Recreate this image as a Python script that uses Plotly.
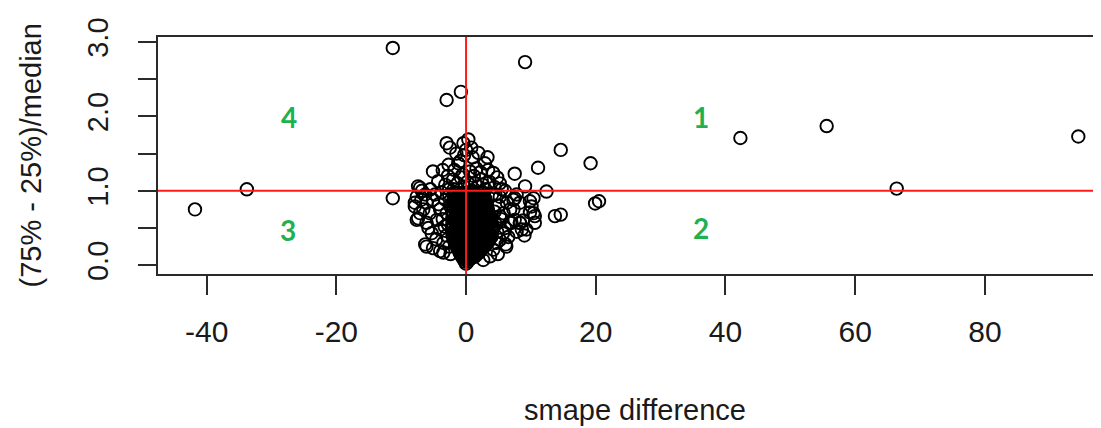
import plotly.graph_objects as go

# ---- data ----
# isolated / outlying points
out_x = [-41.8, -33.8, -11.3, -11.3, 9.1, -3.0, -0.8, 42.3, 55.6, 66.4, 94.4,
         14.6, 19.2, 11.1, 19.9, 20.5, 13.7, 14.6, 12.4]
out_y = [0.75, 1.02, 0.90, 2.92, 2.73, 2.22, 2.33, 1.71, 1.87, 1.03, 1.73,
         1.55, 1.37, 1.31, 0.83, 0.86, 0.66, 0.68, 0.99]

# points surrounding the dense core, right side
right_x = [10.6, 10.6, 9.85, 9.1, 7.8, 8.6, 7.5, 6.8, 7.8, 7.5, 7.5, 9.85, 10.4,
           10.1, 7.3, 8.3, 7.0, 10.4, 7.3, 5.2, 4.2, 5.2, 6.3, 8.3, 5.2, 6.8,
           8.3, 5.7, 4.7, 3.7, 2.65, 9.3, 6.0, 5.0, 4.6, 5.8, 6.5, 4.5, 5.5,
           8.8, 9.0, 6.2, 4.9, 4.4, 4.8, 5.4, 6.1]
right_y = [0.57, 0.66, 0.71, 1.06, 0.95, 0.48, 0.61, 0.75, 0.45, 1.23, 0.90, 0.86, 0.70,
           0.79, 0.75, 0.84, 0.57, 0.90, 0.88, 0.34, 0.21, 0.92, 0.84, 0.57, 0.66, 0.57,
           0.57, 0.43, 0.30, 0.12, 0.07, 0.48, 0.50, 0.80, 0.55, 0.70, 0.38, 0.95, 1.02,
           0.60, 0.40, 0.25, 0.15, 0.72, 0.45, 0.62, 0.28]

# points surrounding the dense core, left side
left_x = [-7.4, -7.6, -7.9, -7.4, -6.1, -4.0, -7.9, -7.1, -6.1, -5.1, -7.6, -6.1,
          -4.5, -5.3, -4.0, -6.3, -5.1, -3.5, -3.5, -4.0, -3.0, -6.8, -5.6, -4.8,
          -3.2, -2.8, -3.0, -2.6, -5.8, -4.6, -6.6, -3.6, -2.5, -2.6, -6.9, -2.4,
          -3.3, -4.2]
left_y = [1.06, 0.92, 0.79, 0.63, 0.25, 0.19, 0.84, 0.70, 0.84, 0.88, 0.61, 0.57,
          0.61, 0.43, 0.48, 0.28, 0.23, 0.30, 0.17, 0.75, 0.70, 1.00, 0.70, 0.95,
          0.88, 0.55, 0.40, 0.25, 0.50, 0.35, 0.75, 0.62, 0.80, 0.95, 0.88, 0.15,
          0.52, 0.82]

# points above the core (y > 1)
upper_x = [-3.0, -0.4, 0.35, -2.5, 1.9, -2.7, -5.1, -1.2, 2.9, 0.6, 4.2, -4.3,
           -2.0, 2.4, 5.2, -7.1, -0.9, 0.0, -0.3, 1.0, -1.8, 1.6, 3.4, -0.5, 1.2,
           3.6, -3.2, -1.3, 0.2, 1.8, 4.4, -2.6, 3.0, -0.2, 0.9, -3.8, 4.0, 6.0,
           -5.5, -6.3, -2.8, 3.3, -1.5, 0.8, 2.2, -0.8, -3.6, 4.8, 1.4, -1.9, 2.6]
upper_y = [1.64, 1.64, 1.69, 1.58, 1.51, 1.35, 1.26, 1.37, 1.37, 1.26, 1.24, 1.13,
           1.15, 1.15, 1.10, 1.04, 1.40, 1.55, 1.48, 1.45, 1.28, 1.30, 1.28, 1.22, 1.20,
           1.12, 1.08, 1.10, 1.12, 1.06, 1.05, 1.02, 1.02, 1.05, 1.00, 0.98, 0.95, 1.00,
           1.02, 0.95, 1.20, 1.45, 1.50, 1.58, 1.25, 1.18, 1.28, 1.18, 1.10, 1.02, 1.08]

# dense core: y level of each row and the x values read along it
core_levels = [0.02, 0.05, 0.08, 0.11, 0.14, 0.17, 0.20, 0.23, 0.26, 0.29, 0.32,
               0.35, 0.38, 0.41, 0.45, 0.49, 0.53, 0.57, 0.61, 0.65, 0.69, 0.73,
               0.77, 0.81, 0.85, 0.89, 0.93, 0.97]
core_rows = [
    [0.0],
    [-0.2, 0.3],
    [-0.4, 0.1, 0.6],
    [-0.6, -0.1, 0.4, 0.9, 1.3],
    [-0.8, -0.3, 0.2, 0.7, 1.2, 1.6],
    [-1.0, -0.5, 0.0, 0.5, 1.0, 1.5, 2.0],
    [-1.1, -0.6, -0.1, 0.4, 0.9, 1.4, 1.9, 2.3],
    [-1.3, -0.8, -0.3, 0.2, 0.7, 1.2, 1.7, 2.2, 2.6],
    [-1.5, -1.0, -0.5, 0.0, 0.5, 1.0, 1.5, 2.0, 2.5, 2.9],
    [-1.6, -1.1, -0.6, -0.1, 0.4, 0.9, 1.4, 1.9, 2.4, 2.9, 3.2],
    [-1.8, -1.3, -0.8, -0.3, 0.2, 0.7, 1.2, 1.7, 2.2, 2.7, 3.2, 3.5],
    [-1.9, -1.4, -0.9, -0.4, 0.1, 0.6, 1.1, 1.6, 2.1, 2.6, 3.1, 3.6],
    [-2.0, -1.5, -1.0, -0.5, 0.0, 0.5, 1.0, 1.5, 2.0, 2.5, 3.0, 3.5, 3.9],
    [-2.1, -1.6, -1.1, -0.6, -0.1, 0.4, 0.9, 1.4, 1.9, 2.4, 2.9, 3.4, 3.9],
    [-2.0, -1.5, -1.0, -0.5, 0.0, 0.5, 1.0, 1.5, 2.0, 2.5, 3.0, 3.5, 4.0],
    [-2.1, -1.6, -1.1, -0.6, -0.1, 0.4, 0.9, 1.4, 1.9, 2.4, 2.9, 3.4, 3.9],
    [-2.0, -1.5, -1.0, -0.5, 0.0, 0.5, 1.0, 1.5, 2.0, 2.5, 3.0, 3.5, 4.1],
    [-2.1, -1.6, -1.1, -0.6, -0.1, 0.4, 0.9, 1.4, 1.9, 2.4, 2.9, 3.4, 3.9],
    [-2.0, -1.5, -1.0, -0.5, 0.0, 0.5, 1.0, 1.5, 2.0, 2.5, 3.0, 3.5, 3.9],
    [-2.1, -1.6, -1.1, -0.6, -0.1, 0.4, 0.9, 1.4, 1.9, 2.4, 2.9, 3.4, 3.8],
    [-2.0, -1.5, -1.0, -0.5, 0.0, 0.5, 1.0, 1.5, 2.0, 2.5, 3.0, 3.5],
    [-2.1, -1.6, -1.1, -0.6, -0.1, 0.4, 0.9, 1.4, 1.9, 2.4, 2.9, 3.4],
    [-2.0, -1.5, -1.0, -0.5, 0.0, 0.5, 1.0, 1.5, 2.0, 2.5, 3.0, 3.3],
    [-2.1, -1.6, -1.1, -0.6, -0.1, 0.4, 0.9, 1.4, 1.9, 2.4, 2.9, 3.2],
    [-2.0, -1.5, -1.0, -0.5, 0.0, 0.5, 1.0, 1.5, 2.0, 2.5, 3.0],
    [-1.9, -1.4, -0.9, -0.4, 0.1, 0.6, 1.1, 1.6, 2.1, 2.6, 3.0],
    [-1.8, -1.3, -0.8, -0.3, 0.2, 0.7, 1.2, 1.7, 2.2, 2.7],
    [-1.6, -1.1, -0.6, -0.1, 0.4, 0.9, 1.4, 1.9, 2.4],
]

# quadrant labels
quad_labels = ["1", "2", "3", "4"]
quad_x = [36.2, 36.3, -27.5, -27.3]
quad_y = [1.99, 0.50, 0.48, 1.99]

# reference lines
vline_x = 0
hline_y = 1.0

x_ticks = [-40, -20, 0, 20, 40, 60, 80]
y_ticks = [0.0, 0.5, 1.0, 1.5, 2.0, 2.5, 3.0]
y_ticktext = ["0.0", "", "1.0", "", "2.0", "", "3.0"]

# ---- assemble ----
core_x, core_y = [], []
for lvl, row in zip(core_levels, core_rows):
    for xv in row:
        core_x.append(xv)
        core_y.append(lvl)

all_x = core_x + left_x + right_x + upper_x + out_x
all_y = core_y + left_y + right_y + upper_y + out_y

FONT = "Liberation Sans, Arial, sans-serif"
INK = "#1a1a1a"

# the page body has an 8px margin, so the figure is 8px smaller than the window
W, H = 1093, 420
L, T, B = 150, 29, 154
PW, PH = W - L, H - T - B

fig = go.Figure()
fig.add_trace(go.Scatter(
    x=all_x, y=all_y, mode="markers",
    marker=dict(symbol="circle-open", size=12.5, color="black",
                line=dict(width=1.9, color="black")),
    hoverinfo="x+y", showlegend=False,
))

for t, qx, qy in zip(quad_labels, quad_x, quad_y):
    fig.add_annotation(x=qx, y=qy, text="<b>%s</b>" % t, showarrow=False,
                       font=dict(family="Lato, Open Sans, sans-serif", size=28,
                                 color="#1fb04f"),
                       xanchor="center", yanchor="middle")

fig.add_shape(type="line", xref="x", yref="paper", x0=vline_x, x1=vline_x,
              y0=0, y1=1, line=dict(color="#ff1a1a", width=2), layer="above")
fig.add_shape(type="line", xref="paper", yref="y", x0=0, x1=1,
              y0=hline_y, y1=hline_y, line=dict(color="#ff1a1a", width=2),
              layer="above")

# axis titles
fig.add_annotation(xref="paper", yref="paper", x=477 / PW, y=-136 / PH,
                   text="smape difference", showarrow=False,
                   font=dict(family=FONT, size=29, color=INK),
                   xanchor="center", yanchor="middle")
fig.add_annotation(xref="paper", yref="paper", x=-128 / PW, y=0.5,
                   text="(75% - 25%)/median", showarrow=False, textangle=-90,
                   font=dict(family=FONT, size=29, color=INK),
                   xanchor="center", yanchor="middle")

fig.update_layout(
    width=W, height=H,
    margin=dict(l=L, r=0, t=T, b=B, pad=0),
    paper_bgcolor="white", plot_bgcolor="white",
    showlegend=False,
    font=dict(family=FONT, color=INK),
    xaxis=dict(range=[-47.5, 97.9], tickvals=x_ticks,
               ticktext=[str(v) for v in x_ticks],
               showgrid=False, zeroline=False,
               showline=True, linecolor="#2a2a2a", linewidth=2, mirror=True,
               ticks="outside", ticklen=19, tickwidth=2, tickcolor="#2a2a2a",
               tickfont=dict(family=FONT, size=30, color=INK),
               ticklabelstandoff=11, automargin=False),
    yaxis=dict(range=[-0.118, 3.067], tickvals=y_ticks, ticktext=y_ticktext,
               showgrid=False, zeroline=False,
               showline=True, linecolor="#2a2a2a", linewidth=2, mirror=False,
               ticks="outside", ticklen=18, tickwidth=2, tickcolor="#2a2a2a",
               tickangle=-90,
               tickfont=dict(family=FONT, size=29, color=INK),
               ticklabelstandoff=18, automargin=False),
)

fig.write_html("out.html")
